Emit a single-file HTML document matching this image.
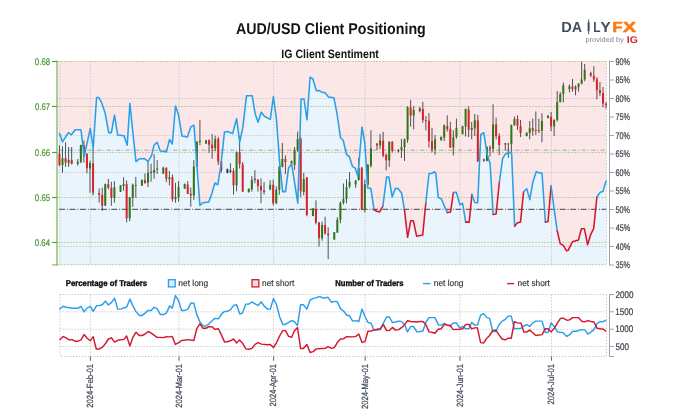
<!DOCTYPE html>
<html lang="en"><head><meta charset="utf-8"><title>AUD/USD Client Positioning</title>
<style>html,body{margin:0;padding:0;background:#fff}svg{display:block}text{font-family:"Liberation Sans",Arial,sans-serif;text-rendering:geometricPrecision}</style></head><body>
<svg width="675" height="419" viewBox="0 0 675 419">
<rect width="675" height="419" fill="#fff"/>
<rect x="58.4" y="61.2" width="547.8000000000001" height="203.8" fill="#e9f4fc"/>
<polygon fill="#fbe7e7" points="58.4,61.2 606.2,61.2 606.2,181.0 606.0,181.0 602.9,191.6 600.2,192.2 596.9,197.0 593.7,228.4 590.7,234.6 587.6,244.8 584.4,228.7 581.4,228.7 578.5,240.0 572.4,241.8 568.3,250.2 566.5,250.8 563.3,245.4 560.2,243.6 557.2,231.0 554.0,207.8 551.1,186.0 548.0,221.6 545.4,222.1 542.0,173.0 539.3,173.0 536.3,171.6 532.9,181.9 529.8,199.6 526.7,188.8 523.6,191.7 520.5,222.1 517.2,223.0 514.6,226.2 511.6,153.3 508.9,152.4 505.3,154.2 502.6,158.7 499.4,182.0 496.1,214.0 493.1,214.4 490.1,163.7 486.9,153.3 483.8,132.7 480.8,134.5 477.7,202.7 474.8,202.5 472.0,194.4 469.2,222.1 465.7,222.1 462.6,203.3 459.9,204.7 456.3,192.2 453.4,192.5 450.6,211.9 447.4,212.6 444.7,206.9 441.3,198.8 438.3,197.6 435.8,173.5 434.4,171.7 431.7,173.5 429.0,173.5 425.8,203.0 422.7,235.1 416.6,236.2 413.4,220.8 410.7,220.8 407.6,237.3 404.5,209.8 401.6,193.0 398.0,188.5 395.4,188.2 392.2,197.0 388.9,177.1 386.6,177.1 382.9,206.0 379.7,211.9 376.6,211.3 374.0,209.6 370.9,188.6 367.7,188.0 364.8,143.0 362.0,127.0 357.9,176.2 355.1,168.1 352.4,166.3 349.3,156.5 346.6,154.7 343.2,140.3 340.5,137.7 336.9,113.0 333.9,97.8 328.5,96.9 324.9,92.4 322.2,92.4 319.2,90.6 316.3,90.6 312.9,79.0 310.1,77.2 307.0,119.8 304.0,99.0 301.1,99.0 297.8,203.2 294.6,182.6 291.6,163.8 288.5,168.3 285.5,191.6 282.6,191.6 279.6,162.0 276.4,119.0 273.4,96.6 270.3,119.4 264.4,116.3 261.2,112.2 258.1,122.3 255.1,113.7 252.2,95.7 246.5,95.7 242.9,127.1 239.7,142.0 236.6,118.7 232.7,133.4 227.3,131.6 224.5,131.9 220.8,166.0 217.8,184.8 214.9,183.0 211.9,193.4 208.8,202.0 202.9,202.7 199.9,205.5 197.0,166.5 194.0,125.3 191.0,126.6 187.4,136.9 182.0,136.0 178.4,114.6 175.5,106.1 172.3,144.0 169.6,139.5 166.4,151.8 160.3,150.9 157.1,142.3 154.0,145.2 151.7,155.4 148.1,161.6 144.6,158.6 139.2,159.0 136.0,161.6 133.3,136.6 129.9,103.4 127.2,145.2 124.0,135.7 117.7,135.1 114.5,115.1 111.4,132.6 108.7,132.6 105.2,113.3 101.9,103.4 98.9,97.5 96.6,97.5 93.2,148.2 90.3,128.5 84.2,156.3 81.0,129.8 75.1,129.8 71.5,134.8 68.4,132.6 62.5,141.9 59.5,133.5 58.4,133.5"/>
<line x1="58.4" x2="606.2" y1="98.5" y2="98.5" stroke="#c6c6c6" stroke-width="1" stroke-dasharray="1.3 1.7"/>
<line x1="58.4" x2="606.2" y1="135.5" y2="135.5" stroke="#c6c6c6" stroke-width="1" stroke-dasharray="1.3 1.7"/>
<line x1="58.4" x2="606.2" y1="172.5" y2="172.5" stroke="#c6c6c6" stroke-width="1" stroke-dasharray="1.3 1.7"/>
<line x1="58.4" x2="606.2" y1="246.5" y2="246.5" stroke="#c6c6c6" stroke-width="1" stroke-dasharray="1.3 1.7"/>
<line x1="90.4" x2="90.4" y1="61.2" y2="265.0" stroke="#c6c6c6" stroke-width="1" stroke-dasharray="1.3 1.7"/>
<line x1="90.4" x2="90.4" y1="294.5" y2="356.5" stroke="#c6c6c6" stroke-width="1" stroke-dasharray="1.3 1.7"/>
<line x1="179.0" x2="179.0" y1="61.2" y2="265.0" stroke="#c6c6c6" stroke-width="1" stroke-dasharray="1.3 1.7"/>
<line x1="179.0" x2="179.0" y1="294.5" y2="356.5" stroke="#c6c6c6" stroke-width="1" stroke-dasharray="1.3 1.7"/>
<line x1="273.6" x2="273.6" y1="61.2" y2="265.0" stroke="#c6c6c6" stroke-width="1" stroke-dasharray="1.3 1.7"/>
<line x1="273.6" x2="273.6" y1="294.5" y2="356.5" stroke="#c6c6c6" stroke-width="1" stroke-dasharray="1.3 1.7"/>
<line x1="365.2" x2="365.2" y1="61.2" y2="265.0" stroke="#c6c6c6" stroke-width="1" stroke-dasharray="1.3 1.7"/>
<line x1="365.2" x2="365.2" y1="294.5" y2="356.5" stroke="#c6c6c6" stroke-width="1" stroke-dasharray="1.3 1.7"/>
<line x1="459.9" x2="459.9" y1="61.2" y2="265.0" stroke="#c6c6c6" stroke-width="1" stroke-dasharray="1.3 1.7"/>
<line x1="459.9" x2="459.9" y1="294.5" y2="356.5" stroke="#c6c6c6" stroke-width="1" stroke-dasharray="1.3 1.7"/>
<line x1="551.5" x2="551.5" y1="61.2" y2="265.0" stroke="#c6c6c6" stroke-width="1" stroke-dasharray="1.3 1.7"/>
<line x1="551.5" x2="551.5" y1="294.5" y2="356.5" stroke="#c6c6c6" stroke-width="1" stroke-dasharray="1.3 1.7"/>
<path d="M60 61.2V265.0M606.5 61.2V265.0" fill="none" stroke="#c6c6c6" stroke-width="1" stroke-dasharray="1.3 1.7"/>
<line x1="58.4" x2="606.2" y1="264.7" y2="264.7" stroke="#9cc57c" stroke-width="1" stroke-dasharray="1.3 1.7"/>
<line x1="58.4" x2="606.2" y1="61.5" y2="61.5" stroke="#9cc57c" stroke-width="1" stroke-dasharray="1.3 1.7"/>
<line x1="58.4" x2="606.2" y1="106.5" y2="106.5" stroke="#9cc57c" stroke-width="1" stroke-dasharray="1.3 1.7"/>
<line x1="58.4" x2="606.2" y1="152.5" y2="152.5" stroke="#9cc57c" stroke-width="1" stroke-dasharray="1.3 1.7"/>
<line x1="58.4" x2="606.2" y1="197.5" y2="197.5" stroke="#9cc57c" stroke-width="1" stroke-dasharray="1.3 1.7"/>
<line x1="58.4" x2="606.2" y1="242.5" y2="242.5" stroke="#9cc57c" stroke-width="1" stroke-dasharray="1.3 1.7"/>
<line x1="59" x2="606.2" y1="150.2" y2="150.2" stroke="#a3a7ab" stroke-width="1" stroke-dasharray="4.4 1.8 1 2.3"/>
<line x1="59.1" x2="606.2" y1="209.4" y2="209.4" stroke="#666" stroke-width="1.2" stroke-dasharray="6 1.9 1 1.53"/>
<line x1="59.46" x2="59.46" y1="145.3" y2="166.2" stroke="#2a2a2a" stroke-opacity="0.8" stroke-width="1"/>
<rect x="58.46" y="153.7" width="2" height="11.3" fill="#d8232a"/>
<line x1="62.51" x2="62.51" y1="146.3" y2="172.8" stroke="#2a2a2a" stroke-opacity="0.8" stroke-width="1"/>
<rect x="61.51" y="158.2" width="2" height="6.8" fill="#32761a"/>
<line x1="65.57" x2="65.57" y1="142.3" y2="166.8" stroke="#2a2a2a" stroke-opacity="0.8" stroke-width="1"/>
<rect x="64.57" y="158.2" width="2" height="4.4" fill="#d8232a"/>
<line x1="68.62" x2="68.62" y1="147.0" y2="166.8" stroke="#2a2a2a" stroke-opacity="0.8" stroke-width="1"/>
<rect x="67.62" y="159.9" width="2" height="3.1" fill="#32761a"/>
<line x1="71.67" x2="71.67" y1="147.0" y2="164.4" stroke="#2a2a2a" stroke-opacity="0.8" stroke-width="1"/>
<rect x="70.67" y="159.9" width="2" height="3.9" fill="#d8232a"/>
<line x1="77.78" x2="77.78" y1="159.0" y2="165.6" stroke="#2a2a2a" stroke-opacity="0.8" stroke-width="1"/>
<rect x="76.78" y="161.8" width="2" height="2.0" fill="#32761a"/>
<line x1="80.84" x2="80.84" y1="144.7" y2="163.2" stroke="#2a2a2a" stroke-opacity="0.8" stroke-width="1"/>
<rect x="79.84" y="145.0" width="2" height="17.0" fill="#32761a"/>
<line x1="83.89" x2="83.89" y1="140.5" y2="162.6" stroke="#2a2a2a" stroke-opacity="0.8" stroke-width="1"/>
<rect x="82.89" y="145.3" width="2" height="9.7" fill="#d8232a"/>
<line x1="86.94" x2="86.94" y1="153.0" y2="173.4" stroke="#2a2a2a" stroke-opacity="0.8" stroke-width="1"/>
<rect x="85.94" y="154.0" width="2" height="14.2" fill="#d8232a"/>
<line x1="90.00" x2="90.00" y1="160.8" y2="192.8" stroke="#2a2a2a" stroke-opacity="0.8" stroke-width="1"/>
<rect x="89.00" y="163.0" width="2" height="5.5" fill="#32761a"/>
<line x1="93.05" x2="93.05" y1="148.3" y2="195.6" stroke="#2a2a2a" stroke-opacity="0.8" stroke-width="1"/>
<rect x="92.05" y="163.2" width="2" height="29.6" fill="#d8232a"/>
<line x1="99.16" x2="99.16" y1="188.4" y2="202.7" stroke="#2a2a2a" stroke-opacity="0.8" stroke-width="1"/>
<rect x="98.16" y="192.9" width="2" height="2.0" fill="#d8232a"/>
<line x1="102.21" x2="102.21" y1="187.8" y2="210.8" stroke="#2a2a2a" stroke-opacity="0.8" stroke-width="1"/>
<rect x="101.21" y="194.9" width="2" height="10.8" fill="#d8232a"/>
<line x1="105.26" x2="105.26" y1="183.6" y2="205.9" stroke="#2a2a2a" stroke-opacity="0.8" stroke-width="1"/>
<rect x="104.26" y="184.2" width="2" height="21.5" fill="#32761a"/>
<line x1="108.32" x2="108.32" y1="178.9" y2="189.3" stroke="#2a2a2a" stroke-opacity="0.8" stroke-width="1"/>
<rect x="107.32" y="184.2" width="2" height="3.6" fill="#d8232a"/>
<line x1="111.37" x2="111.37" y1="181.8" y2="205.7" stroke="#2a2a2a" stroke-opacity="0.8" stroke-width="1"/>
<rect x="110.37" y="187.8" width="2" height="9.9" fill="#d8232a"/>
<line x1="114.42" x2="114.42" y1="181.2" y2="202.7" stroke="#2a2a2a" stroke-opacity="0.8" stroke-width="1"/>
<rect x="113.42" y="187.2" width="2" height="10.5" fill="#32761a"/>
<line x1="120.53" x2="120.53" y1="185.0" y2="192.0" stroke="#2a2a2a" stroke-opacity="0.8" stroke-width="1"/>
<rect x="119.53" y="185.4" width="2" height="6.3" fill="#32761a"/>
<line x1="123.59" x2="123.59" y1="177.3" y2="190.7" stroke="#2a2a2a" stroke-opacity="0.8" stroke-width="1"/>
<rect x="122.59" y="184.0" width="2" height="2.0" fill="#32761a"/>
<line x1="126.64" x2="126.64" y1="180.5" y2="222.4" stroke="#2a2a2a" stroke-opacity="0.8" stroke-width="1"/>
<rect x="125.64" y="184.2" width="2" height="34.0" fill="#d8232a"/>
<line x1="129.69" x2="129.69" y1="197.0" y2="221.2" stroke="#2a2a2a" stroke-opacity="0.8" stroke-width="1"/>
<rect x="128.69" y="197.3" width="2" height="20.9" fill="#32761a"/>
<line x1="132.75" x2="132.75" y1="183.6" y2="206.9" stroke="#2a2a2a" stroke-opacity="0.8" stroke-width="1"/>
<rect x="131.75" y="184.8" width="2" height="12.9" fill="#32761a"/>
<line x1="135.80" x2="135.80" y1="176.9" y2="197.8" stroke="#2a2a2a" stroke-opacity="0.8" stroke-width="1"/>
<rect x="134.80" y="184.9" width="2" height="0.9" fill="#32761a"/>
<line x1="141.91" x2="141.91" y1="179.5" y2="186.0" stroke="#2a2a2a" stroke-opacity="0.8" stroke-width="1"/>
<rect x="140.91" y="179.9" width="2" height="5.7" fill="#32761a"/>
<line x1="144.96" x2="144.96" y1="173.3" y2="183.4" stroke="#2a2a2a" stroke-opacity="0.8" stroke-width="1"/>
<rect x="143.96" y="180.2" width="2" height="3.0" fill="#d8232a"/>
<line x1="148.01" x2="148.01" y1="162.0" y2="187.0" stroke="#2a2a2a" stroke-opacity="0.8" stroke-width="1"/>
<rect x="147.01" y="172.9" width="2" height="9.9" fill="#32761a"/>
<line x1="151.07" x2="151.07" y1="163.7" y2="181.6" stroke="#2a2a2a" stroke-opacity="0.8" stroke-width="1"/>
<rect x="150.07" y="171.8" width="2" height="0.9" fill="#3a3a3a"/>
<line x1="154.12" x2="154.12" y1="154.2" y2="178.7" stroke="#2a2a2a" stroke-opacity="0.8" stroke-width="1"/>
<rect x="153.12" y="170.0" width="2" height="2.7" fill="#32761a"/>
<line x1="157.18" x2="157.18" y1="160.1" y2="173.9" stroke="#2a2a2a" stroke-opacity="0.8" stroke-width="1"/>
<rect x="156.18" y="168.5" width="2" height="1.2" fill="#32761a"/>
<line x1="163.28" x2="163.28" y1="166.7" y2="173.9" stroke="#2a2a2a" stroke-opacity="0.8" stroke-width="1"/>
<rect x="162.28" y="167.7" width="2" height="5.9" fill="#32761a"/>
<line x1="166.34" x2="166.34" y1="167.3" y2="182.2" stroke="#2a2a2a" stroke-opacity="0.8" stroke-width="1"/>
<rect x="165.34" y="167.9" width="2" height="10.8" fill="#d8232a"/>
<line x1="169.39" x2="169.39" y1="170.9" y2="185.2" stroke="#2a2a2a" stroke-opacity="0.8" stroke-width="1"/>
<rect x="168.39" y="177.2" width="2" height="2.1" fill="#32761a"/>
<line x1="172.44" x2="172.44" y1="174.5" y2="201.7" stroke="#2a2a2a" stroke-opacity="0.8" stroke-width="1"/>
<rect x="171.44" y="177.2" width="2" height="22.1" fill="#d8232a"/>
<line x1="175.50" x2="175.50" y1="182.8" y2="202.7" stroke="#2a2a2a" stroke-opacity="0.8" stroke-width="1"/>
<rect x="174.50" y="196.9" width="2" height="2.2" fill="#32761a"/>
<line x1="178.55" x2="178.55" y1="181.0" y2="201.7" stroke="#2a2a2a" stroke-opacity="0.8" stroke-width="1"/>
<rect x="177.55" y="186.8" width="2" height="10.7" fill="#32761a"/>
<line x1="184.66" x2="184.66" y1="183.5" y2="189.0" stroke="#2a2a2a" stroke-opacity="0.8" stroke-width="1"/>
<rect x="183.66" y="184.0" width="2" height="4.7" fill="#32761a"/>
<line x1="187.71" x2="187.71" y1="181.0" y2="194.2" stroke="#2a2a2a" stroke-opacity="0.8" stroke-width="1"/>
<rect x="186.71" y="184.6" width="2" height="9.2" fill="#d8232a"/>
<line x1="190.76" x2="190.76" y1="187.5" y2="206.7" stroke="#2a2a2a" stroke-opacity="0.8" stroke-width="1"/>
<rect x="189.76" y="193.7" width="2" height="1.8" fill="#d8232a"/>
<line x1="193.82" x2="193.82" y1="160.1" y2="199.9" stroke="#2a2a2a" stroke-opacity="0.8" stroke-width="1"/>
<rect x="192.82" y="166.5" width="2" height="29.0" fill="#32761a"/>
<line x1="196.87" x2="196.87" y1="141.1" y2="167.0" stroke="#2a2a2a" stroke-opacity="0.8" stroke-width="1"/>
<rect x="195.87" y="141.7" width="2" height="25.0" fill="#32761a"/>
<line x1="199.93" x2="199.93" y1="120.0" y2="145.3" stroke="#2a2a2a" stroke-opacity="0.8" stroke-width="1"/>
<rect x="198.93" y="140.8" width="2" height="1.2" fill="#32761a"/>
<line x1="206.03" x2="206.03" y1="140.0" y2="144.0" stroke="#2a2a2a" stroke-opacity="0.8" stroke-width="1"/>
<rect x="205.03" y="140.3" width="2" height="3.2" fill="#32761a"/>
<line x1="209.09" x2="209.09" y1="139.3" y2="152.7" stroke="#2a2a2a" stroke-opacity="0.8" stroke-width="1"/>
<rect x="208.09" y="140.3" width="2" height="4.4" fill="#d8232a"/>
<line x1="212.14" x2="212.14" y1="134.0" y2="158.7" stroke="#2a2a2a" stroke-opacity="0.8" stroke-width="1"/>
<rect x="211.14" y="144.7" width="2" height="3.6" fill="#d8232a"/>
<line x1="215.19" x2="215.19" y1="135.7" y2="151.3" stroke="#2a2a2a" stroke-opacity="0.8" stroke-width="1"/>
<rect x="214.19" y="139.1" width="2" height="9.2" fill="#32761a"/>
<line x1="218.25" x2="218.25" y1="136.9" y2="165.0" stroke="#2a2a2a" stroke-opacity="0.8" stroke-width="1"/>
<rect x="217.25" y="139.1" width="2" height="22.4" fill="#d8232a"/>
<line x1="221.30" x2="221.30" y1="160.8" y2="172.5" stroke="#2a2a2a" stroke-opacity="0.8" stroke-width="1"/>
<rect x="220.30" y="161.3" width="2" height="8.9" fill="#d8232a"/>
<line x1="227.41" x2="227.41" y1="168.6" y2="173.4" stroke="#2a2a2a" stroke-opacity="0.8" stroke-width="1"/>
<rect x="226.41" y="169.0" width="2" height="4.0" fill="#3a3a3a"/>
<line x1="230.46" x2="230.46" y1="163.3" y2="173.4" stroke="#2a2a2a" stroke-opacity="0.8" stroke-width="1"/>
<rect x="229.46" y="170.5" width="2" height="1.5" fill="#3a3a3a"/>
<line x1="233.52" x2="233.52" y1="168.4" y2="194.6" stroke="#2a2a2a" stroke-opacity="0.8" stroke-width="1"/>
<rect x="232.52" y="171.0" width="2" height="14.3" fill="#d8232a"/>
<line x1="236.57" x2="236.57" y1="151.5" y2="191.3" stroke="#2a2a2a" stroke-opacity="0.8" stroke-width="1"/>
<rect x="235.57" y="152.2" width="2" height="33.1" fill="#32761a"/>
<line x1="239.62" x2="239.62" y1="136.3" y2="168.5" stroke="#2a2a2a" stroke-opacity="0.8" stroke-width="1"/>
<rect x="238.62" y="152.2" width="2" height="12.1" fill="#d8232a"/>
<line x1="242.68" x2="242.68" y1="162.0" y2="192.0" stroke="#2a2a2a" stroke-opacity="0.8" stroke-width="1"/>
<rect x="241.68" y="164.5" width="2" height="27.1" fill="#d8232a"/>
<line x1="248.78" x2="248.78" y1="188.5" y2="192.5" stroke="#2a2a2a" stroke-opacity="0.8" stroke-width="1"/>
<rect x="247.78" y="188.7" width="2" height="3.5" fill="#32761a"/>
<line x1="251.84" x2="251.84" y1="176.1" y2="191.6" stroke="#2a2a2a" stroke-opacity="0.8" stroke-width="1"/>
<rect x="250.84" y="179.7" width="2" height="9.6" fill="#32761a"/>
<line x1="254.89" x2="254.89" y1="170.1" y2="183.3" stroke="#2a2a2a" stroke-opacity="0.8" stroke-width="1"/>
<rect x="253.89" y="178.8" width="2" height="0.9" fill="#3a3a3a"/>
<line x1="257.94" x2="257.94" y1="179.1" y2="191.6" stroke="#2a2a2a" stroke-opacity="0.8" stroke-width="1"/>
<rect x="256.94" y="179.7" width="2" height="6.3" fill="#d8232a"/>
<line x1="261.00" x2="261.00" y1="178.5" y2="203.2" stroke="#2a2a2a" stroke-opacity="0.8" stroke-width="1"/>
<rect x="260.00" y="186.0" width="2" height="4.4" fill="#d8232a"/>
<line x1="264.05" x2="264.05" y1="182.1" y2="194.4" stroke="#2a2a2a" stroke-opacity="0.8" stroke-width="1"/>
<rect x="263.05" y="190.4" width="2" height="1.8" fill="#d8232a"/>
<line x1="270.16" x2="270.16" y1="180.3" y2="190.4" stroke="#2a2a2a" stroke-opacity="0.8" stroke-width="1"/>
<rect x="269.16" y="184.8" width="2" height="4.5" fill="#32761a"/>
<line x1="273.21" x2="273.21" y1="179.7" y2="205.4" stroke="#2a2a2a" stroke-opacity="0.8" stroke-width="1"/>
<rect x="272.21" y="184.8" width="2" height="18.4" fill="#d8232a"/>
<line x1="276.27" x2="276.27" y1="186.3" y2="204.2" stroke="#2a2a2a" stroke-opacity="0.8" stroke-width="1"/>
<rect x="275.27" y="189.7" width="2" height="13.4" fill="#32761a"/>
<line x1="279.32" x2="279.32" y1="165.6" y2="194.8" stroke="#2a2a2a" stroke-opacity="0.8" stroke-width="1"/>
<rect x="278.32" y="166.7" width="2" height="23.0" fill="#32761a"/>
<line x1="282.37" x2="282.37" y1="142.9" y2="167.4" stroke="#2a2a2a" stroke-opacity="0.8" stroke-width="1"/>
<rect x="281.37" y="159.0" width="2" height="7.8" fill="#32761a"/>
<line x1="285.43" x2="285.43" y1="155.4" y2="174.0" stroke="#2a2a2a" stroke-opacity="0.8" stroke-width="1"/>
<rect x="284.43" y="159.0" width="2" height="3.0" fill="#d8232a"/>
<line x1="291.53" x2="291.53" y1="160.5" y2="164.0" stroke="#2a2a2a" stroke-opacity="0.8" stroke-width="1"/>
<rect x="290.53" y="161.0" width="2" height="2.5" fill="#32761a"/>
<line x1="294.59" x2="294.59" y1="147.1" y2="169.8" stroke="#2a2a2a" stroke-opacity="0.8" stroke-width="1"/>
<rect x="293.59" y="149.8" width="2" height="15.2" fill="#32761a"/>
<line x1="297.64" x2="297.64" y1="131.6" y2="151.9" stroke="#2a2a2a" stroke-opacity="0.8" stroke-width="1"/>
<rect x="296.64" y="139.1" width="2" height="11.0" fill="#32761a"/>
<line x1="300.69" x2="300.69" y1="136.9" y2="197.2" stroke="#2a2a2a" stroke-opacity="0.8" stroke-width="1"/>
<rect x="299.69" y="138.7" width="2" height="52.6" fill="#d8232a"/>
<line x1="303.75" x2="303.75" y1="172.8" y2="195.4" stroke="#2a2a2a" stroke-opacity="0.8" stroke-width="1"/>
<rect x="302.75" y="179.1" width="2" height="12.8" fill="#32761a"/>
<line x1="306.80" x2="306.80" y1="176.9" y2="216.3" stroke="#2a2a2a" stroke-opacity="0.8" stroke-width="1"/>
<rect x="305.80" y="177.5" width="2" height="37.4" fill="#d8232a"/>
<line x1="312.91" x2="312.91" y1="208.0" y2="216.2" stroke="#2a2a2a" stroke-opacity="0.8" stroke-width="1"/>
<rect x="311.91" y="208.6" width="2" height="7.4" fill="#32761a"/>
<line x1="315.96" x2="315.96" y1="200.3" y2="224.4" stroke="#2a2a2a" stroke-opacity="0.8" stroke-width="1"/>
<rect x="314.96" y="208.9" width="2" height="13.6" fill="#d8232a"/>
<line x1="319.02" x2="319.02" y1="222.0" y2="246.6" stroke="#2a2a2a" stroke-opacity="0.8" stroke-width="1"/>
<rect x="318.02" y="222.4" width="2" height="15.9" fill="#d8232a"/>
<line x1="322.07" x2="322.07" y1="221.5" y2="240.7" stroke="#2a2a2a" stroke-opacity="0.8" stroke-width="1"/>
<rect x="321.07" y="225.0" width="2" height="13.3" fill="#32761a"/>
<line x1="325.12" x2="325.12" y1="216.7" y2="234.7" stroke="#2a2a2a" stroke-opacity="0.8" stroke-width="1"/>
<rect x="324.12" y="225.0" width="2" height="8.5" fill="#d8232a"/>
<line x1="328.18" x2="328.18" y1="227.4" y2="259.2" stroke="#2a2a2a" stroke-opacity="0.8" stroke-width="1"/>
<rect x="327.18" y="233.5" width="2" height="1.8" fill="#d8232a"/>
<line x1="334.28" x2="334.28" y1="232.0" y2="239.7" stroke="#2a2a2a" stroke-opacity="0.8" stroke-width="1"/>
<rect x="333.28" y="232.2" width="2" height="7.3" fill="#32761a"/>
<line x1="337.34" x2="337.34" y1="217.2" y2="232.9" stroke="#2a2a2a" stroke-opacity="0.8" stroke-width="1"/>
<rect x="336.34" y="219.7" width="2" height="12.8" fill="#32761a"/>
<line x1="340.39" x2="340.39" y1="201.5" y2="223.3" stroke="#2a2a2a" stroke-opacity="0.8" stroke-width="1"/>
<rect x="339.39" y="202.8" width="2" height="16.9" fill="#32761a"/>
<line x1="343.44" x2="343.44" y1="183.5" y2="204.5" stroke="#2a2a2a" stroke-opacity="0.8" stroke-width="1"/>
<rect x="342.44" y="199.0" width="2" height="3.8" fill="#32761a"/>
<line x1="346.50" x2="346.50" y1="179.3" y2="203.3" stroke="#2a2a2a" stroke-opacity="0.8" stroke-width="1"/>
<rect x="345.50" y="187.1" width="2" height="11.9" fill="#32761a"/>
<line x1="349.55" x2="349.55" y1="172.1" y2="188.4" stroke="#2a2a2a" stroke-opacity="0.8" stroke-width="1"/>
<rect x="348.55" y="182.0" width="2" height="4.5" fill="#32761a"/>
<line x1="355.66" x2="355.66" y1="180.0" y2="187.8" stroke="#2a2a2a" stroke-opacity="0.8" stroke-width="1"/>
<rect x="354.66" y="180.6" width="2" height="3.8" fill="#32761a"/>
<line x1="358.71" x2="358.71" y1="157.9" y2="180.6" stroke="#2a2a2a" stroke-opacity="0.8" stroke-width="1"/>
<rect x="357.71" y="168.0" width="2" height="12.0" fill="#32761a"/>
<line x1="361.77" x2="361.77" y1="166.9" y2="210.3" stroke="#2a2a2a" stroke-opacity="0.8" stroke-width="1"/>
<rect x="360.77" y="167.7" width="2" height="41.8" fill="#d8232a"/>
<line x1="364.82" x2="364.82" y1="179.4" y2="212.5" stroke="#2a2a2a" stroke-opacity="0.8" stroke-width="1"/>
<rect x="363.82" y="184.2" width="2" height="25.8" fill="#32761a"/>
<line x1="367.87" x2="367.87" y1="163.9" y2="185.4" stroke="#2a2a2a" stroke-opacity="0.8" stroke-width="1"/>
<rect x="366.87" y="165.0" width="2" height="19.8" fill="#32761a"/>
<line x1="370.93" x2="370.93" y1="130.2" y2="167.5" stroke="#2a2a2a" stroke-opacity="0.8" stroke-width="1"/>
<rect x="369.93" y="148.4" width="2" height="17.3" fill="#32761a"/>
<line x1="377.03" x2="377.03" y1="143.0" y2="150.1" stroke="#2a2a2a" stroke-opacity="0.8" stroke-width="1"/>
<rect x="376.03" y="143.6" width="2" height="1.8" fill="#d8232a"/>
<line x1="380.09" x2="380.09" y1="133.8" y2="149.0" stroke="#2a2a2a" stroke-opacity="0.8" stroke-width="1"/>
<rect x="379.09" y="140.4" width="2" height="5.0" fill="#32761a"/>
<line x1="383.14" x2="383.14" y1="131.8" y2="157.3" stroke="#2a2a2a" stroke-opacity="0.8" stroke-width="1"/>
<rect x="382.14" y="140.7" width="2" height="14.8" fill="#d8232a"/>
<line x1="386.20" x2="386.20" y1="153.7" y2="170.4" stroke="#2a2a2a" stroke-opacity="0.8" stroke-width="1"/>
<rect x="385.20" y="154.9" width="2" height="5.4" fill="#d8232a"/>
<line x1="389.25" x2="389.25" y1="141.2" y2="166.9" stroke="#2a2a2a" stroke-opacity="0.8" stroke-width="1"/>
<rect x="388.25" y="141.8" width="2" height="18.5" fill="#32761a"/>
<line x1="392.30" x2="392.30" y1="141.2" y2="152.5" stroke="#2a2a2a" stroke-opacity="0.8" stroke-width="1"/>
<rect x="391.30" y="141.8" width="2" height="8.9" fill="#d8232a"/>
<line x1="398.41" x2="398.41" y1="149.0" y2="152.5" stroke="#2a2a2a" stroke-opacity="0.8" stroke-width="1"/>
<rect x="397.41" y="150.3" width="2" height="1.0" fill="#3a3a3a"/>
<line x1="401.46" x2="401.46" y1="138.9" y2="157.9" stroke="#2a2a2a" stroke-opacity="0.8" stroke-width="1"/>
<rect x="400.46" y="147.2" width="2" height="2.6" fill="#32761a"/>
<line x1="404.52" x2="404.52" y1="138.6" y2="160.9" stroke="#2a2a2a" stroke-opacity="0.8" stroke-width="1"/>
<rect x="403.52" y="139.4" width="2" height="7.8" fill="#32761a"/>
<line x1="407.57" x2="407.57" y1="106.3" y2="142.8" stroke="#2a2a2a" stroke-opacity="0.8" stroke-width="1"/>
<rect x="406.57" y="106.9" width="2" height="32.9" fill="#32761a"/>
<line x1="410.62" x2="410.62" y1="99.8" y2="126.6" stroke="#2a2a2a" stroke-opacity="0.8" stroke-width="1"/>
<rect x="409.62" y="107.5" width="2" height="8.0" fill="#d8232a"/>
<line x1="413.68" x2="413.68" y1="106.0" y2="129.4" stroke="#2a2a2a" stroke-opacity="0.8" stroke-width="1"/>
<rect x="412.68" y="109.9" width="2" height="5.6" fill="#32761a"/>
<line x1="419.78" x2="419.78" y1="107.0" y2="112.3" stroke="#2a2a2a" stroke-opacity="0.8" stroke-width="1"/>
<rect x="418.78" y="108.4" width="2" height="2.7" fill="#32761a"/>
<line x1="422.84" x2="422.84" y1="101.9" y2="122.8" stroke="#2a2a2a" stroke-opacity="0.8" stroke-width="1"/>
<rect x="421.84" y="109.1" width="2" height="11.0" fill="#d8232a"/>
<line x1="425.89" x2="425.89" y1="116.0" y2="130.3" stroke="#2a2a2a" stroke-opacity="0.8" stroke-width="1"/>
<rect x="424.89" y="120.1" width="2" height="0.9" fill="#d8232a"/>
<line x1="428.95" x2="428.95" y1="113.0" y2="147.6" stroke="#2a2a2a" stroke-opacity="0.8" stroke-width="1"/>
<rect x="427.95" y="120.7" width="2" height="20.5" fill="#d8232a"/>
<line x1="432.00" x2="432.00" y1="127.9" y2="152.4" stroke="#2a2a2a" stroke-opacity="0.8" stroke-width="1"/>
<rect x="431.00" y="141.2" width="2" height="8.2" fill="#d8232a"/>
<line x1="435.05" x2="435.05" y1="135.1" y2="154.8" stroke="#2a2a2a" stroke-opacity="0.8" stroke-width="1"/>
<rect x="434.05" y="139.3" width="2" height="10.1" fill="#32761a"/>
<line x1="441.16" x2="441.16" y1="136.5" y2="140.6" stroke="#2a2a2a" stroke-opacity="0.8" stroke-width="1"/>
<rect x="440.16" y="136.9" width="2" height="3.4" fill="#32761a"/>
<line x1="444.21" x2="444.21" y1="124.3" y2="141.0" stroke="#2a2a2a" stroke-opacity="0.8" stroke-width="1"/>
<rect x="443.21" y="125.5" width="2" height="12.0" fill="#32761a"/>
<line x1="447.27" x2="447.27" y1="115.4" y2="131.5" stroke="#2a2a2a" stroke-opacity="0.8" stroke-width="1"/>
<rect x="446.27" y="126.1" width="2" height="3.0" fill="#d8232a"/>
<line x1="450.32" x2="450.32" y1="121.9" y2="147.8" stroke="#2a2a2a" stroke-opacity="0.8" stroke-width="1"/>
<rect x="449.32" y="128.9" width="2" height="18.7" fill="#d8232a"/>
<line x1="453.37" x2="453.37" y1="130.3" y2="155.4" stroke="#2a2a2a" stroke-opacity="0.8" stroke-width="1"/>
<rect x="452.37" y="137.2" width="2" height="10.4" fill="#32761a"/>
<line x1="456.43" x2="456.43" y1="118.5" y2="138.7" stroke="#2a2a2a" stroke-opacity="0.8" stroke-width="1"/>
<rect x="455.43" y="128.0" width="2" height="9.0" fill="#32761a"/>
<line x1="462.54" x2="462.54" y1="125.8" y2="134.4" stroke="#2a2a2a" stroke-opacity="0.8" stroke-width="1"/>
<rect x="461.54" y="126.1" width="2" height="8.0" fill="#32761a"/>
<line x1="465.59" x2="465.59" y1="108.5" y2="136.5" stroke="#2a2a2a" stroke-opacity="0.8" stroke-width="1"/>
<rect x="464.59" y="109.1" width="2" height="17.4" fill="#32761a"/>
<line x1="468.64" x2="468.64" y1="106.5" y2="137.0" stroke="#2a2a2a" stroke-opacity="0.8" stroke-width="1"/>
<rect x="467.64" y="109.7" width="2" height="19.8" fill="#d8232a"/>
<line x1="471.70" x2="471.70" y1="122.0" y2="139.3" stroke="#2a2a2a" stroke-opacity="0.8" stroke-width="1"/>
<rect x="470.70" y="128.0" width="2" height="1.9" fill="#32761a"/>
<line x1="474.75" x2="474.75" y1="114.0" y2="136.0" stroke="#2a2a2a" stroke-opacity="0.8" stroke-width="1"/>
<rect x="473.75" y="120.3" width="2" height="8.1" fill="#32761a"/>
<line x1="477.80" x2="477.80" y1="114.8" y2="162.0" stroke="#2a2a2a" stroke-opacity="0.8" stroke-width="1"/>
<rect x="476.80" y="120.4" width="2" height="41.0" fill="#d8232a"/>
<line x1="483.91" x2="483.91" y1="158.5" y2="162.0" stroke="#2a2a2a" stroke-opacity="0.8" stroke-width="1"/>
<rect x="482.91" y="159.4" width="2" height="1.4" fill="#d8232a"/>
<line x1="486.96" x2="486.96" y1="146.3" y2="161.4" stroke="#2a2a2a" stroke-opacity="0.8" stroke-width="1"/>
<rect x="485.96" y="147.1" width="2" height="13.7" fill="#32761a"/>
<line x1="490.02" x2="490.02" y1="145.4" y2="156.6" stroke="#2a2a2a" stroke-opacity="0.8" stroke-width="1"/>
<rect x="489.02" y="147.2" width="2" height="1.5" fill="#d8232a"/>
<line x1="493.07" x2="493.07" y1="104.3" y2="152.5" stroke="#2a2a2a" stroke-opacity="0.8" stroke-width="1"/>
<rect x="492.07" y="124.2" width="2" height="24.6" fill="#32761a"/>
<line x1="496.12" x2="496.12" y1="117.7" y2="139.3" stroke="#2a2a2a" stroke-opacity="0.8" stroke-width="1"/>
<rect x="495.12" y="124.5" width="2" height="11.5" fill="#d8232a"/>
<line x1="499.18" x2="499.18" y1="133.2" y2="155.1" stroke="#2a2a2a" stroke-opacity="0.8" stroke-width="1"/>
<rect x="498.18" y="136.0" width="2" height="9.0" fill="#d8232a"/>
<line x1="505.29" x2="505.29" y1="142.9" y2="150.7" stroke="#2a2a2a" stroke-opacity="0.8" stroke-width="1"/>
<rect x="504.29" y="143.5" width="2" height="0.9" fill="#3a3a3a"/>
<line x1="508.34" x2="508.34" y1="143.1" y2="157.8" stroke="#2a2a2a" stroke-opacity="0.8" stroke-width="1"/>
<rect x="507.34" y="143.5" width="2" height="0.9" fill="#d8232a"/>
<line x1="511.39" x2="511.39" y1="124.5" y2="152.5" stroke="#2a2a2a" stroke-opacity="0.8" stroke-width="1"/>
<rect x="510.39" y="125.2" width="2" height="18.9" fill="#32761a"/>
<line x1="514.45" x2="514.45" y1="116.5" y2="125.6" stroke="#2a2a2a" stroke-opacity="0.8" stroke-width="1"/>
<rect x="513.45" y="119.0" width="2" height="6.2" fill="#32761a"/>
<line x1="517.50" x2="517.50" y1="115.3" y2="130.0" stroke="#2a2a2a" stroke-opacity="0.8" stroke-width="1"/>
<rect x="516.50" y="119.0" width="2" height="6.8" fill="#d8232a"/>
<line x1="520.55" x2="520.55" y1="119.9" y2="137.0" stroke="#2a2a2a" stroke-opacity="0.8" stroke-width="1"/>
<rect x="519.55" y="126.1" width="2" height="6.9" fill="#d8232a"/>
<line x1="526.66" x2="526.66" y1="132.4" y2="136.3" stroke="#2a2a2a" stroke-opacity="0.8" stroke-width="1"/>
<rect x="525.66" y="132.7" width="2" height="3.3" fill="#32761a"/>
<line x1="529.71" x2="529.71" y1="121.0" y2="139.3" stroke="#2a2a2a" stroke-opacity="0.8" stroke-width="1"/>
<rect x="528.71" y="128.2" width="2" height="4.7" fill="#32761a"/>
<line x1="532.77" x2="532.77" y1="118.5" y2="135.7" stroke="#2a2a2a" stroke-opacity="0.8" stroke-width="1"/>
<rect x="531.77" y="128.2" width="2" height="2.6" fill="#d8232a"/>
<line x1="535.82" x2="535.82" y1="111.5" y2="135.0" stroke="#2a2a2a" stroke-opacity="0.8" stroke-width="1"/>
<rect x="534.82" y="130.0" width="2" height="0.9" fill="#32761a"/>
<line x1="538.88" x2="538.88" y1="118.7" y2="133.2" stroke="#2a2a2a" stroke-opacity="0.8" stroke-width="1"/>
<rect x="537.88" y="130.0" width="2" height="1.0" fill="#d8232a"/>
<line x1="541.93" x2="541.93" y1="113.3" y2="142.3" stroke="#2a2a2a" stroke-opacity="0.8" stroke-width="1"/>
<rect x="540.93" y="120.8" width="2" height="9.7" fill="#32761a"/>
<line x1="548.04" x2="548.04" y1="115.0" y2="118.3" stroke="#2a2a2a" stroke-opacity="0.8" stroke-width="1"/>
<rect x="547.04" y="115.7" width="2" height="2.3" fill="#32761a"/>
<line x1="551.09" x2="551.09" y1="112.1" y2="131.2" stroke="#2a2a2a" stroke-opacity="0.8" stroke-width="1"/>
<rect x="550.09" y="116.9" width="2" height="9.5" fill="#d8232a"/>
<line x1="554.14" x2="554.14" y1="119.3" y2="136.0" stroke="#2a2a2a" stroke-opacity="0.8" stroke-width="1"/>
<rect x="553.14" y="119.9" width="2" height="6.5" fill="#32761a"/>
<line x1="557.20" x2="557.20" y1="91.0" y2="121.6" stroke="#2a2a2a" stroke-opacity="0.8" stroke-width="1"/>
<rect x="556.20" y="102.0" width="2" height="17.9" fill="#32761a"/>
<line x1="560.25" x2="560.25" y1="92.0" y2="102.5" stroke="#2a2a2a" stroke-opacity="0.8" stroke-width="1"/>
<rect x="559.25" y="94.0" width="2" height="8.0" fill="#32761a"/>
<line x1="563.30" x2="563.30" y1="82.5" y2="102.4" stroke="#2a2a2a" stroke-opacity="0.8" stroke-width="1"/>
<rect x="562.30" y="85.4" width="2" height="8.6" fill="#32761a"/>
<line x1="569.41" x2="569.41" y1="84.3" y2="92.3" stroke="#2a2a2a" stroke-opacity="0.8" stroke-width="1"/>
<rect x="568.41" y="86.3" width="2" height="2.7" fill="#32761a"/>
<line x1="572.46" x2="572.46" y1="78.9" y2="91.6" stroke="#2a2a2a" stroke-opacity="0.8" stroke-width="1"/>
<rect x="571.46" y="86.3" width="2" height="2.7" fill="#d8232a"/>
<line x1="575.52" x2="575.52" y1="85.4" y2="95.2" stroke="#2a2a2a" stroke-opacity="0.8" stroke-width="1"/>
<rect x="574.52" y="86.6" width="2" height="3.0" fill="#32761a"/>
<line x1="578.57" x2="578.57" y1="83.1" y2="91.6" stroke="#2a2a2a" stroke-opacity="0.8" stroke-width="1"/>
<rect x="577.57" y="83.7" width="2" height="3.5" fill="#32761a"/>
<line x1="581.63" x2="581.63" y1="61.6" y2="84.3" stroke="#2a2a2a" stroke-opacity="0.8" stroke-width="1"/>
<rect x="580.63" y="79.5" width="2" height="4.2" fill="#32761a"/>
<line x1="584.68" x2="584.68" y1="64.0" y2="81.3" stroke="#2a2a2a" stroke-opacity="0.8" stroke-width="1"/>
<rect x="583.68" y="69.9" width="2" height="9.6" fill="#32761a"/>
<line x1="590.79" x2="590.79" y1="71.7" y2="77.1" stroke="#2a2a2a" stroke-opacity="0.8" stroke-width="1"/>
<rect x="589.79" y="73.1" width="2" height="2.4" fill="#d8232a"/>
<line x1="593.84" x2="593.84" y1="66.3" y2="81.9" stroke="#2a2a2a" stroke-opacity="0.8" stroke-width="1"/>
<rect x="592.84" y="75.9" width="2" height="3.5" fill="#d8232a"/>
<line x1="596.89" x2="596.89" y1="77.1" y2="99.4" stroke="#2a2a2a" stroke-opacity="0.8" stroke-width="1"/>
<rect x="595.89" y="79.2" width="2" height="11.0" fill="#d8232a"/>
<line x1="599.95" x2="599.95" y1="81.9" y2="96.1" stroke="#2a2a2a" stroke-opacity="0.8" stroke-width="1"/>
<rect x="598.95" y="90.2" width="2" height="2.9" fill="#d8232a"/>
<line x1="603.00" x2="603.00" y1="87.0" y2="107.3" stroke="#2a2a2a" stroke-opacity="0.8" stroke-width="1"/>
<rect x="602.00" y="93.1" width="2" height="10.7" fill="#d8232a"/>
<line x1="606.05" x2="606.05" y1="101.9" y2="108.5" stroke="#2a2a2a" stroke-opacity="0.8" stroke-width="1"/>
<rect x="605.05" y="103.7" width="2" height="1.6" fill="#d8232a"/>
<polyline fill="none" stroke="#2a9fe8" stroke-width="1.55" stroke-linejoin="round" stroke-linecap="round" points="59.5,133.5 62.5,141.9 68.4,132.6 71.5,134.8 75.1,129.8 81.0,129.8 84.2,156.3 90.3,128.5 93.2,148.2 96.6,97.5 98.9,97.5 101.9,103.4 105.2,113.3 108.7,132.6 111.4,132.6 114.5,115.1 117.7,135.1 124.0,135.7 127.2,145.2 129.9,103.4 133.3,136.6 136.0,161.6 139.2,159.0 144.6,158.6 148.1,161.6 151.7,155.4 154.0,145.2 157.1,142.3 160.3,150.9 166.4,151.8 169.6,139.5 172.3,144.0 175.5,106.1 178.4,114.6 182.0,136.0 187.4,136.9 191.0,126.6 194.0,125.3 197.0,166.5 199.9,205.5 202.9,202.7 208.8,202.0 211.9,193.4 214.9,183.0 217.8,184.8 220.8,166.0 224.5,131.9 227.3,131.6 232.7,133.4 236.6,118.7 239.7,142.0 242.9,127.1 246.5,95.7 252.2,95.7 255.1,113.7 258.1,122.3 261.2,112.2 264.4,116.3 270.3,119.4 273.4,96.6 276.4,119.0 279.6,162.0 282.6,191.6 285.5,191.6 288.5,168.3 291.6,163.8 294.6,182.6 297.8,203.2 301.1,99.0 304.0,99.0 307.0,119.8 310.1,77.2 312.9,79.0 316.3,90.6 319.2,90.6 322.2,92.4 324.9,92.4 328.5,96.9 333.9,97.8 336.9,113.0 340.5,137.7 343.2,140.3 346.6,154.7 349.3,156.5 352.4,166.3 355.1,168.1 357.9,176.2 362.0,127.0 364.8,143.0 367.7,188.0 370.9,188.6 374.0,209.6"/>
<polyline fill="none" stroke="#d3182e" stroke-width="1.55" stroke-linejoin="round" stroke-linecap="round" points="374.0,209.6 376.6,211.3 379.7,211.9 382.9,206.0"/>
<polyline fill="none" stroke="#2a9fe8" stroke-width="1.55" stroke-linejoin="round" stroke-linecap="round" points="382.9,206.0 386.6,177.1 388.9,177.1 392.2,197.0 395.4,188.2 398.0,188.5 401.6,193.0 404.5,209.8"/>
<polyline fill="none" stroke="#d3182e" stroke-width="1.55" stroke-linejoin="round" stroke-linecap="round" points="404.5,209.8 407.6,237.3 410.7,220.8 413.4,220.8 416.6,236.2 422.7,235.1 425.8,203.0"/>
<polyline fill="none" stroke="#2a9fe8" stroke-width="1.55" stroke-linejoin="round" stroke-linecap="round" points="425.8,203.0 429.0,173.5 431.7,173.5 434.4,171.7 435.8,173.5 438.3,197.6 441.3,198.8 444.7,206.9 447.4,212.6"/>
<polyline fill="none" stroke="#d3182e" stroke-width="1.55" stroke-linejoin="round" stroke-linecap="round" points="447.4,212.6 450.6,211.9 453.4,192.5"/>
<polyline fill="none" stroke="#2a9fe8" stroke-width="1.55" stroke-linejoin="round" stroke-linecap="round" points="453.4,192.5 456.3,192.2 459.9,204.7 462.6,203.3 465.7,222.1"/>
<polyline fill="none" stroke="#d3182e" stroke-width="1.55" stroke-linejoin="round" stroke-linecap="round" points="465.7,222.1 469.2,222.1 472.0,194.4"/>
<polyline fill="none" stroke="#2a9fe8" stroke-width="1.55" stroke-linejoin="round" stroke-linecap="round" points="472.0,194.4 474.8,202.5 477.7,202.7 480.8,134.5 483.8,132.7 486.9,153.3 490.1,163.7 493.1,214.4"/>
<polyline fill="none" stroke="#d3182e" stroke-width="1.55" stroke-linejoin="round" stroke-linecap="round" points="493.1,214.4 496.1,214.0 499.4,182.0"/>
<polyline fill="none" stroke="#2a9fe8" stroke-width="1.55" stroke-linejoin="round" stroke-linecap="round" points="499.4,182.0 502.6,158.7 505.3,154.2 508.9,152.4 511.6,153.3 514.6,226.2"/>
<polyline fill="none" stroke="#d3182e" stroke-width="1.55" stroke-linejoin="round" stroke-linecap="round" points="514.6,226.2 517.2,223.0 520.5,222.1 523.6,191.7"/>
<polyline fill="none" stroke="#2a9fe8" stroke-width="1.55" stroke-linejoin="round" stroke-linecap="round" points="523.6,191.7 526.7,188.8 529.8,199.6 532.9,181.9 536.3,171.6 539.3,173.0 542.0,173.0 545.4,222.1"/>
<polyline fill="none" stroke="#d3182e" stroke-width="1.55" stroke-linejoin="round" stroke-linecap="round" points="545.4,222.1 548.0,221.6 551.1,186.0"/>
<polyline fill="none" stroke="#2a9fe8" stroke-width="1.55" stroke-linejoin="round" stroke-linecap="round" points="551.1,186.0 554.0,207.8 557.2,231.0"/>
<polyline fill="none" stroke="#d3182e" stroke-width="1.55" stroke-linejoin="round" stroke-linecap="round" points="557.2,231.0 560.2,243.6 563.3,245.4 566.5,250.8 568.3,250.2 572.4,241.8 578.5,240.0 581.4,228.7 584.4,228.7 587.6,244.8 590.7,234.6 593.7,228.4 596.9,197.0"/>
<polyline fill="none" stroke="#2a9fe8" stroke-width="1.55" stroke-linejoin="round" stroke-linecap="round" points="596.9,197.0 600.2,192.2 602.9,191.6 606.0,181.0"/>
<line x1="57" x2="57" y1="60.6" y2="265.6" stroke="#86bd66" stroke-width="1.4"/>
<line x1="52" x2="57" y1="61.5" y2="61.5" stroke="#5b9d38" stroke-width="1.2"/>
<text transform="matrix(0.7850 0 0 0.9600 34.85 64.70)" font-size="10" fill="#4c932e" stroke="#4c932e" stroke-width="0.2">0.68</text>
<line x1="52" x2="57" y1="106.5" y2="106.5" stroke="#5b9d38" stroke-width="1.2"/>
<text transform="matrix(0.7850 0 0 0.9600 34.92 109.70)" font-size="10" fill="#4c932e" stroke="#4c932e" stroke-width="0.2">0.67</text>
<line x1="52" x2="57" y1="152.5" y2="152.5" stroke="#5b9d38" stroke-width="1.2"/>
<text transform="matrix(0.7850 0 0 0.9600 34.85 155.70)" font-size="10" fill="#4c932e" stroke="#4c932e" stroke-width="0.2">0.66</text>
<line x1="52" x2="57" y1="197.5" y2="197.5" stroke="#5b9d38" stroke-width="1.2"/>
<text transform="matrix(0.7850 0 0 0.9600 34.85 200.70)" font-size="10" fill="#4c932e" stroke="#4c932e" stroke-width="0.2">0.65</text>
<line x1="52" x2="57" y1="242.5" y2="242.5" stroke="#5b9d38" stroke-width="1.2"/>
<text transform="matrix(0.7850 0 0 0.9600 34.77 245.70)" font-size="10" fill="#4c932e" stroke="#4c932e" stroke-width="0.2">0.64</text>
<line x1="52" x2="57.7" y1="264.9" y2="264.9" stroke="#86bd66" stroke-width="1.2"/>
<line x1="609.5" x2="609.5" y1="60.7" y2="265.5" stroke="#a2a2a6" stroke-width="1"/>
<line x1="609.5" x2="614" y1="61.5" y2="61.5" stroke="#a2a2a6" stroke-width="1"/>
<text transform="matrix(0.7250 0 0 0.9600 615.47 64.70)" font-size="10" fill="#3c4653" stroke="#3c4653" stroke-width="0.25">90%</text>
<line x1="609.5" x2="614" y1="80.0" y2="80.0" stroke="#a2a2a6" stroke-width="1"/>
<text transform="matrix(0.7250 0 0 0.9600 615.47 83.20)" font-size="10" fill="#3c4653" stroke="#3c4653" stroke-width="0.25">85%</text>
<line x1="609.5" x2="614" y1="98.5" y2="98.5" stroke="#a2a2a6" stroke-width="1"/>
<text transform="matrix(0.7250 0 0 0.9600 615.47 101.70)" font-size="10" fill="#3c4653" stroke="#3c4653" stroke-width="0.25">80%</text>
<line x1="609.5" x2="614" y1="117.0" y2="117.0" stroke="#a2a2a6" stroke-width="1"/>
<text transform="matrix(0.7250 0 0 0.9600 615.44 120.20)" font-size="10" fill="#3c4653" stroke="#3c4653" stroke-width="0.25">75%</text>
<line x1="609.5" x2="614" y1="135.5" y2="135.5" stroke="#a2a2a6" stroke-width="1"/>
<text transform="matrix(0.7250 0 0 0.9600 615.44 138.70)" font-size="10" fill="#3c4653" stroke="#3c4653" stroke-width="0.25">70%</text>
<line x1="609.5" x2="614" y1="154.0" y2="154.0" stroke="#a2a2a6" stroke-width="1"/>
<text transform="matrix(0.7250 0 0 0.9600 615.44 157.20)" font-size="10" fill="#3c4653" stroke="#3c4653" stroke-width="0.25">65%</text>
<line x1="609.5" x2="614" y1="172.5" y2="172.5" stroke="#a2a2a6" stroke-width="1"/>
<text transform="matrix(0.7250 0 0 0.9600 615.44 175.70)" font-size="10" fill="#3c4653" stroke="#3c4653" stroke-width="0.25">60%</text>
<line x1="609.5" x2="614" y1="191.0" y2="191.0" stroke="#a2a2a6" stroke-width="1"/>
<text transform="matrix(0.7250 0 0 0.9600 615.51 194.20)" font-size="10" fill="#3c4653" stroke="#3c4653" stroke-width="0.25">55%</text>
<line x1="609.5" x2="614" y1="209.5" y2="209.5" stroke="#a2a2a6" stroke-width="1"/>
<text transform="matrix(0.7250 0 0 0.9600 615.51 212.70)" font-size="10" fill="#3c4653" stroke="#3c4653" stroke-width="0.25">50%</text>
<line x1="609.5" x2="614" y1="228.0" y2="228.0" stroke="#a2a2a6" stroke-width="1"/>
<text transform="matrix(0.7250 0 0 0.9600 615.65 231.20)" font-size="10" fill="#3c4653" stroke="#3c4653" stroke-width="0.25">45%</text>
<line x1="609.5" x2="614" y1="246.5" y2="246.5" stroke="#a2a2a6" stroke-width="1"/>
<text transform="matrix(0.7250 0 0 0.9600 615.65 249.70)" font-size="10" fill="#3c4653" stroke="#3c4653" stroke-width="0.25">40%</text>
<line x1="609.5" x2="614" y1="265.0" y2="265.0" stroke="#a2a2a6" stroke-width="1"/>
<text transform="matrix(0.7250 0 0 0.9600 615.51 268.20)" font-size="10" fill="#3c4653" stroke="#3c4653" stroke-width="0.25">35%</text>
<path d="M60 294.5V356.5H606.5V294.5" fill="none" stroke="#c6c6c6" stroke-width="1" stroke-dasharray="1.3 1.7"/>
<line x1="59.5" x2="606.2" y1="294.5" y2="294.5" stroke="#c6c6c6" stroke-width="1" stroke-dasharray="1.3 1.7"/>
<line x1="59.5" x2="606.2" y1="311.8" y2="311.8" stroke="#c6c6c6" stroke-width="1" stroke-dasharray="1.3 1.7"/>
<line x1="59.5" x2="606.2" y1="329.2" y2="329.2" stroke="#c6c6c6" stroke-width="1" stroke-dasharray="1.3 1.7"/>
<line x1="59.5" x2="606.2" y1="346.5" y2="346.5" stroke="#c6c6c6" stroke-width="1" stroke-dasharray="1.3 1.7"/>
<polyline fill="none" stroke="#2a9fe8" stroke-width="1.45" stroke-linejoin="round" points="59.5,309.1 63.1,306.3 66.1,307.2 72.9,308.2 77.9,308.2 81.0,306.3 84.0,311.8 87.2,308.1 90.3,306.4 93.2,311.3 96.6,305.6 99.4,305.6 102.5,304.5 105.5,301.1 108.4,305.0 111.4,302.7 114.6,298.2 117.7,309.1 120.9,309.1 124.0,307.7 126.6,307.3 129.9,299.1 132.9,305.9 136.0,311.6 139.2,315.4 142.2,315.4 145.1,313.1 148.1,310.4 151.2,310.4 154.0,307.3 157.1,308.6 160.3,314.5 163.4,314.5 166.4,313.1 169.6,305.9 172.3,308.1 175.4,295.5 178.6,300.9 181.6,310.4 184.9,310.4 187.9,309.1 191.0,302.9 193.8,303.2 196.9,314.9 199.9,322.0 203.1,326.0 205.8,326.0 209.0,323.8 212.1,320.8 214.8,318.4 218.4,318.8 221.4,314.3 224.3,311.6 227.3,311.3 230.4,309.9 233.6,305.4 236.6,304.7 239.9,314.0 242.5,313.1 245.8,304.1 248.8,304.1 252.0,302.0 255.1,303.8 258.1,305.6 261.4,301.8 264.0,305.9 267.6,309.1 270.3,309.1 273.4,298.7 276.6,305.0 279.6,316.7 282.8,324.4 285.5,324.4 288.6,322.4 291.6,320.6 294.3,321.5 297.5,325.6 300.6,304.7 303.4,304.7 306.9,309.1 310.1,300.2 313.1,298.4 316.3,297.9 319.4,296.4 322.6,297.9 325.3,297.9 328.0,297.3 331.6,302.3 334.3,301.4 337.3,301.8 340.5,308.6 343.7,311.3 346.8,315.2 349.5,315.8 352.7,321.1 355.8,320.6 358.8,321.5 362.0,309.1 365.1,316.7 367.9,322.4 371.0,323.3 374.0,330.1 377.2,330.1 380.3,329.6 383.5,322.9 386.6,317.0 389.4,317.0 392.5,322.6 395.5,322.0 398.7,321.1 401.8,321.6 404.8,325.1 407.5,331.9 410.7,326.5 413.4,326.5 417.0,331.9 420.1,331.5 422.9,331.0 426.0,322.0 429.0,317.6 434.9,317.6 438.5,325.1 441.2,325.1 444.4,323.3 447.5,325.6 450.2,326.0 453.2,322.9 456.4,322.9 459.6,327.8 462.7,326.5 465.7,328.8 469.0,328.8 471.6,322.4 474.7,325.1 477.4,325.1 480.6,315.2 483.6,313.6 486.9,317.6 489.6,318.4 492.8,331.5 495.8,331.5 499.0,324.7 502.1,321.1 505.3,319.3 508.3,316.1 511.3,316.1 514.3,328.8 521.1,328.3 523.8,326.0 526.9,324.7 529.7,326.5 532.8,322.9 535.8,321.1 542.1,321.1 545.3,332.4 548.0,332.4 551.2,322.9 554.3,326.5 557.5,331.9 563.2,332.8 566.8,336.4 569.5,334.9 572.7,331.3 575.8,331.3 582.0,329.6 585.1,330.1 587.9,334.2 591.0,331.9 594.0,329.6 597.2,323.3 600.3,321.7 603.5,321.5 606.2,320.2"/>
<polyline fill="none" stroke="#d3182e" stroke-width="1.45" stroke-linejoin="round" points="59.5,339.9 63.1,336.4 66.1,337.8 69.3,339.9 72.0,339.6 75.1,341.2 77.9,341.2 81.0,339.9 84.0,334.6 87.2,338.2 90.3,340.8 93.2,336.7 96.2,348.9 99.4,348.9 102.5,347.1 105.5,343.5 108.4,339.0 111.4,337.8 114.6,342.1 117.7,340.3 124.0,339.4 126.6,336.0 129.9,345.9 132.9,337.3 136.0,332.2 139.2,335.5 142.2,335.5 145.1,334.0 148.1,331.5 151.2,333.1 157.1,337.3 163.4,337.6 166.4,336.7 169.6,336.9 172.3,336.4 175.4,344.4 178.6,342.6 181.6,340.5 187.9,339.6 193.8,340.5 196.9,328.3 199.9,323.8 203.1,328.3 205.8,328.3 209.0,326.5 212.1,326.9 214.8,329.2 218.4,328.8 221.4,334.9 224.6,342.1 227.3,341.7 230.4,340.8 233.6,339.0 236.6,343.0 239.5,339.9 242.5,343.2 245.8,348.9 248.8,349.3 252.0,348.4 255.1,344.4 258.1,342.6 261.4,344.1 267.6,344.8 270.3,344.4 273.4,347.5 276.6,342.6 279.6,336.0 282.8,330.6 285.5,330.6 288.6,336.4 291.6,337.3 294.3,331.0 297.5,327.4 300.6,348.4 303.4,348.4 306.9,344.4 310.1,352.5 313.1,351.6 316.3,348.9 322.6,348.5 325.3,348.4 328.0,346.7 331.6,348.4 334.3,347.6 337.3,342.6 340.5,339.0 343.7,338.7 346.8,336.7 352.7,336.9 355.8,336.4 358.8,334.0 362.0,342.6 365.1,341.4 367.9,331.3 371.0,331.0 374.0,330.1 377.2,329.2 380.3,328.7 383.5,324.7 386.6,330.6 389.4,330.4 392.5,327.4 395.5,330.1 398.7,329.6 401.8,327.4 404.8,324.4 407.5,320.8 410.7,321.5 417.0,322.0 420.1,321.5 422.9,321.5 426.0,324.7 429.0,331.9 431.9,332.2 434.9,333.3 438.2,329.2 441.2,328.8 444.4,324.4 447.5,325.1 450.2,325.3 453.2,329.6 459.6,329.2 462.7,328.8 465.7,324.4 469.0,324.4 471.6,328.8 474.7,327.9 477.4,327.8 480.6,342.6 483.6,343.0 486.9,338.2 489.6,335.5 492.8,330.4 495.8,330.1 499.0,334.9 502.1,339.0 505.3,339.9 508.3,338.2 511.3,338.2 514.3,321.8 517.4,322.9 521.1,323.3 523.8,331.9 526.9,331.9 529.7,330.1 532.8,332.8 535.8,335.5 542.1,334.6 545.3,328.7 548.0,328.7 551.2,331.9 554.3,328.3 557.5,322.9 560.5,318.4 563.2,318.1 566.8,320.2 569.5,319.9 572.7,317.6 578.4,317.6 582.0,321.5 585.1,321.7 587.9,320.6 591.0,321.5 594.0,322.0 597.2,328.3 600.3,328.8 603.5,329.2 606.2,331.5"/>
<line x1="609.5" x2="609.5" y1="294.2" y2="357.0" stroke="#a2a2a6" stroke-width="1"/>
<line x1="609.5" x2="614" y1="294.5" y2="294.5" stroke="#a2a2a6" stroke-width="1"/>
<text transform="matrix(0.8100 0 0 0.9600 615.39 297.70)" font-size="10" fill="#3c4653" stroke="#3c4653" stroke-width="0.25">2000</text>
<line x1="609.5" x2="614" y1="311.8" y2="311.8" stroke="#a2a2a6" stroke-width="1"/>
<text transform="matrix(0.8100 0 0 0.9600 615.19 315.00)" font-size="10" fill="#3c4653" stroke="#3c4653" stroke-width="0.25">1500</text>
<line x1="609.5" x2="614" y1="329.2" y2="329.2" stroke="#a2a2a6" stroke-width="1"/>
<text transform="matrix(0.8100 0 0 0.9600 615.19 332.40)" font-size="10" fill="#3c4653" stroke="#3c4653" stroke-width="0.25">1000</text>
<line x1="609.5" x2="614" y1="346.5" y2="346.5" stroke="#a2a2a6" stroke-width="1"/>
<text transform="matrix(0.8100 0 0 0.9600 615.48 349.70)" font-size="10" fill="#3c4653" stroke="#3c4653" stroke-width="0.25">500</text>
<line x1="609.5" x2="614" y1="356.5" y2="356.5" stroke="#a2a2a6" stroke-width="1"/>
<line x1="90.4" x2="90.4" y1="356.5" y2="360.7" stroke="#666c75" stroke-width="1.1"/>
<text transform="matrix(0 -0.7650 0.9000 0 93.10 407.85)" font-size="10" fill="#3c4653" stroke="#3c4653" stroke-width="0.25">2024-Feb-01</text>
<line x1="179.0" x2="179.0" y1="356.5" y2="360.7" stroke="#666c75" stroke-width="1.1"/>
<text transform="matrix(0 -0.7650 0.9000 0 181.65 407.85)" font-size="10" fill="#3c4653" stroke="#3c4653" stroke-width="0.25">2024-Mar-01</text>
<line x1="273.6" x2="273.6" y1="356.5" y2="360.7" stroke="#666c75" stroke-width="1.1"/>
<text transform="matrix(0 -0.7650 0.9000 0 276.31 406.59)" font-size="10" fill="#3c4653" stroke="#3c4653" stroke-width="0.25">2024-Apr-01</text>
<line x1="365.2" x2="365.2" y1="356.5" y2="360.7" stroke="#666c75" stroke-width="1.1"/>
<text transform="matrix(0 -0.7650 0.9000 0 367.92 409.11)" font-size="10" fill="#3c4653" stroke="#3c4653" stroke-width="0.25">2024-May-01</text>
<line x1="459.9" x2="459.9" y1="356.5" y2="360.7" stroke="#666c75" stroke-width="1.1"/>
<text transform="matrix(0 -0.7650 0.9000 0 462.58 407.01)" font-size="10" fill="#3c4653" stroke="#3c4653" stroke-width="0.25">2024-Jun-01</text>
<line x1="551.5" x2="551.5" y1="356.5" y2="360.7" stroke="#666c75" stroke-width="1.1"/>
<text transform="matrix(0 -0.7650 0.9000 0 554.19 404.45)" font-size="10" fill="#3c4653" stroke="#3c4653" stroke-width="0.25">2024-Jul-01</text>
<text transform="matrix(0.7740 0 0 0.8500 65.80 286.30)" font-size="10" font-weight="bold" fill="#0c0c0c" stroke="#0c0c0c" stroke-width="0.42">Percentage of Traders</text>
<rect x="168.4" y="279.7" width="6.8" height="7.2" fill="#dcedfb" stroke="#2a9fe8" stroke-width="1.3"/>
<text transform="matrix(0.8350 0 0 0.8800 178.36 286.20)" font-size="10" fill="#2e2e2e" stroke="#2e2e2e" stroke-width="0.15">net long</text>
<rect x="252" y="279.7" width="6.8" height="7.2" fill="#fbe0e2" stroke="#d3182e" stroke-width="1.3"/>
<text transform="matrix(0.8270 0 0 0.8800 262.06 286.20)" font-size="10" fill="#2e2e2e" stroke="#2e2e2e" stroke-width="0.15">net short</text>
<text transform="matrix(0.7680 0 0 0.8500 335.30 286.30)" font-size="10" font-weight="bold" fill="#0c0c0c" stroke="#0c0c0c" stroke-width="0.42">Number of Traders</text>
<line x1="423" x2="430.5" y1="283.6" y2="283.6" stroke="#2a9fe8" stroke-width="1.4"/>
<text transform="matrix(0.8300 0 0 0.8800 433.86 286.20)" font-size="10" fill="#2e2e2e" stroke="#2e2e2e" stroke-width="0.15">net long</text>
<line x1="507.2" x2="514.2" y1="283.6" y2="283.6" stroke="#d3182e" stroke-width="1.4"/>
<text transform="matrix(0.8300 0 0 0.8800 517.56 286.20)" font-size="10" fill="#2e2e2e" stroke="#2e2e2e" stroke-width="0.15">net short</text>
<text transform="matrix(1.4230 0 0 1.5800 236.04 34.35)" font-size="10" font-weight="bold" fill="#141414">AUD/USD Client Positioning</text>
<text transform="matrix(1.0580 0 0 1.2100 281.31 57.60)" font-size="10" font-weight="bold" fill="#141414">IG Client Sentiment</text>
<text transform="matrix(1.4634 0 0 1.4638 561.15 31.80)" font-size="10" font-weight="bold" fill="#414c5e">D</text>
<text transform="matrix(1.3881 0 0 1.4638 571.95 31.80)" font-size="10" font-weight="bold" fill="#414c5e">A</text>
<text transform="matrix(1.1845 0 0 1.4638 593.33 31.80)" font-size="10" font-weight="bold" fill="#414c5e">L</text>
<text transform="matrix(1.5238 0 0 1.4638 600.50 31.80)" font-size="10" font-weight="bold" fill="#414c5e">Y</text>
<text transform="matrix(1.6471 0 0 1.4638 612.53 31.80)" font-size="10" font-weight="bold" fill="#ff7a12" stroke="#ff7a12" stroke-width="0.4">F</text>
<text transform="matrix(1.9535 0 0 1.4638 623.10 31.80)" font-size="10" font-weight="bold" fill="#ff7a12" stroke="#ff7a12" stroke-width="0.4">X</text>
<line x1="588.6" x2="588.6" y1="19.4" y2="34.2" stroke="#414c5e" stroke-width="0.9"/><rect x="587.6" y="22.3" width="2" height="8.9" fill="#414c5e"/>
<text transform="matrix(0.7400 0 0 0.7100 585.52 42.10)" font-size="10" fill="#788091">provided by</text>
<text transform="matrix(1.0538 0 0 0.9718 626.72 43.20)" font-size="10" font-weight="bold" fill="#d61f2e">IG</text>
</svg></body></html>
